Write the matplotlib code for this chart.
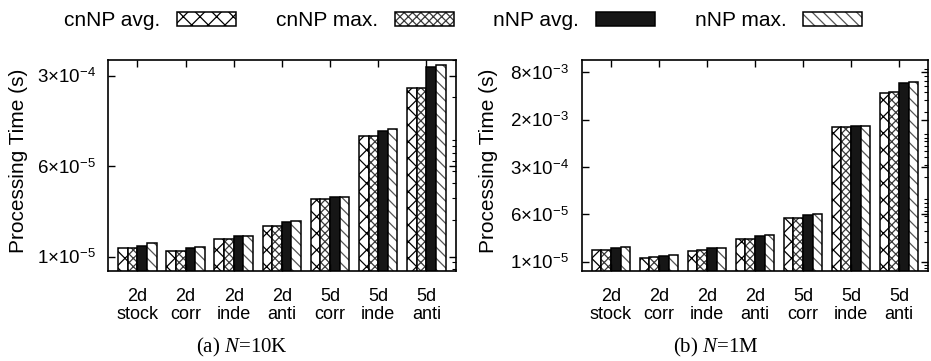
import matplotlib
matplotlib.use("Agg")
import matplotlib.pyplot as plt
import numpy as np
from matplotlib.patches import Patch
from matplotlib.legend_handler import HandlerTuple

plt.rcParams["font.family"] = ["Liberation Sans", "DejaVu Sans"]
plt.rcParams["mathtext.fontset"] = "custom"
plt.rcParams["mathtext.rm"] = "Liberation Sans"
plt.rcParams["mathtext.it"] = "Liberation Serif:italic"
plt.rcParams["hatch.linewidth"] = 0.9

# categories and values (seconds)
categories = ["2d\nstock", "2d\ncorr", "2d\ninde", "2d\nanti", "5d\ncorr", "5d\ninde", "5d\nanti"]
series_names = ["cnNP avg.", "cnNP max.", "nNP avg.", "nNP max."]

cnnp_avg_10k = [1.17e-5, 1.11e-5, 1.39e-5, 1.77e-5, 2.94e-5, 9.67e-5, 2.37e-4]
cnnp_max_10k = [1.17e-5, 1.11e-5, 1.39e-5, 1.77e-5, 2.94e-5, 9.72e-5, 2.37e-4]
nnp_avg_10k = [1.23e-5, 1.18e-5, 1.47e-5, 1.93e-5, 3.07e-5, 1.07e-4, 3.56e-4]
nnp_max_10k = [1.29e-5, 1.20e-5, 1.48e-5, 1.95e-5, 3.09e-5, 1.10e-4, 3.67e-4]

cnnp_avg_1m = [1.50e-5, 1.14e-5, 1.46e-5, 2.20e-5, 4.73e-5, 1.15e-3, 3.89e-3]
cnnp_max_1m = [1.50e-5, 1.17e-5, 1.50e-5, 2.23e-5, 4.73e-5, 1.15e-3, 3.99e-3]
nnp_avg_1m = [1.62e-5, 1.24e-5, 1.60e-5, 2.48e-5, 5.14e-5, 1.20e-3, 5.54e-3]
nnp_max_1m = [1.68e-5, 1.25e-5, 1.64e-5, 2.54e-5, 5.33e-5, 1.20e-3, 5.62e-3]

yticks_10k = [1e-5, 1e-5 * np.sqrt(30), 3e-4]
ylabels_10k = [r"$1{\times}10^{-5}$", r"$6{\times}10^{-5}$", r"$3{\times}10^{-4}$"]
yticks_1m = [1e-5 * 800 ** (k / 4) for k in range(5)]
ylabels_1m = [r"$1{\times}10^{-5}$", r"$6{\times}10^{-5}$", r"$3{\times}10^{-4}$",
              r"$2{\times}10^{-3}$", r"$8{\times}10^{-3}$"]

# (face, hatch, hatch colour)
styles = [
    ("white", "xx", "black"),
    ("white", "xxxx", "#3a3a3a"),
    ("#161616", "", "#161616"),
    ("white", "\\\\\\", "#555555"),
]


def draw_panel(ax, data, ylim, yticks, ylabels):
    x = np.arange(len(categories))
    width = 0.2
    for i, vals in enumerate(data):
        face, hatch, hcol = styles[i]
        pos = x + (i - 1.5) * width
        ax.bar(pos, np.array(vals) - 1e-7, width, bottom=1e-7, color=face,
               hatch=hatch, edgecolor=hcol, linewidth=0)
        ax.bar(pos, np.array(vals) - 1e-7, width, bottom=1e-7, fill=False,
               edgecolor="black", linewidth=1.1)
    ax.set_yscale("log")
    ax.set_ylim(*ylim)
    ax.set_xlim(-0.61, 6.61)
    ax.set_yticks(yticks)
    ax.set_yticklabels(ylabels, fontsize=13.5)
    ax.set_xticks(x)
    ax.set_xticklabels(categories, fontsize=13, linespacing=1.1)
    ax.tick_params(axis="y", which="major", direction="in", left=True, right=True,
                   length=5, width=1, pad=9)
    ax.tick_params(axis="y", which="minor", direction="in", left=False, right=True,
                   length=3, width=0.8)
    ax.yaxis.set_minor_formatter(plt.NullFormatter())
    ax.tick_params(axis="x", direction="in", top=True, bottom=True, length=5,
                   width=1, pad=12)
    for s in ax.spines.values():
        s.set_linewidth(1.2)
    ax.set_ylabel("Processing Time (s)", fontsize=15)


fig = plt.figure(figsize=(9.31, 3.61), dpi=100)
ax1 = fig.add_axes([0.116, 0.2493, 0.3735, 0.5845])
ax2 = fig.add_axes([0.6248, 0.2493, 0.3723, 0.5845])

draw_panel(ax1, [cnnp_avg_10k, cnnp_max_10k, nnp_avg_10k, nnp_max_10k],
           (7.64e-6, 4.03e-4), yticks_10k, ylabels_10k)
draw_panel(ax2, [cnnp_avg_1m, cnnp_max_1m, nnp_avg_1m, nnp_max_1m],
           (7.2e-6, 1.24e-2), yticks_1m, ylabels_1m)
ax1.yaxis.set_label_coords(-0.23, 0.52)
ax2.yaxis.set_label_coords(-0.2415, 0.52)

handles = []
for face, hatch, hcol in styles:
    handles.append((Patch(facecolor=face, hatch=hatch, edgecolor=hcol, linewidth=0),
                    Patch(fill=False, edgecolor="black", linewidth=1.1)))
fig.legend(handles, series_names, loc="center", bbox_to_anchor=(0.4975, 0.942),
           ncol=4, frameon=False, markerfirst=False, fontsize=15,
           handler_map={tuple: HandlerTuple(ndivide=1, pad=0)},
           handlelength=2.84, handleheight=0.62, handletextpad=0.8, columnspacing=1.9)

fig.text(242 / 931, 1 - 347 / 361, r"(a) $\mathit{N}$=10K", ha="center", va="center",
         fontsize=15, family="Liberation Serif")
fig.text(716 / 931, 1 - 347 / 361, r"(b) $\mathit{N}$=1M", ha="center", va="center",
         fontsize=15, family="Liberation Serif")

fig.savefig("out.png", dpi=100)
